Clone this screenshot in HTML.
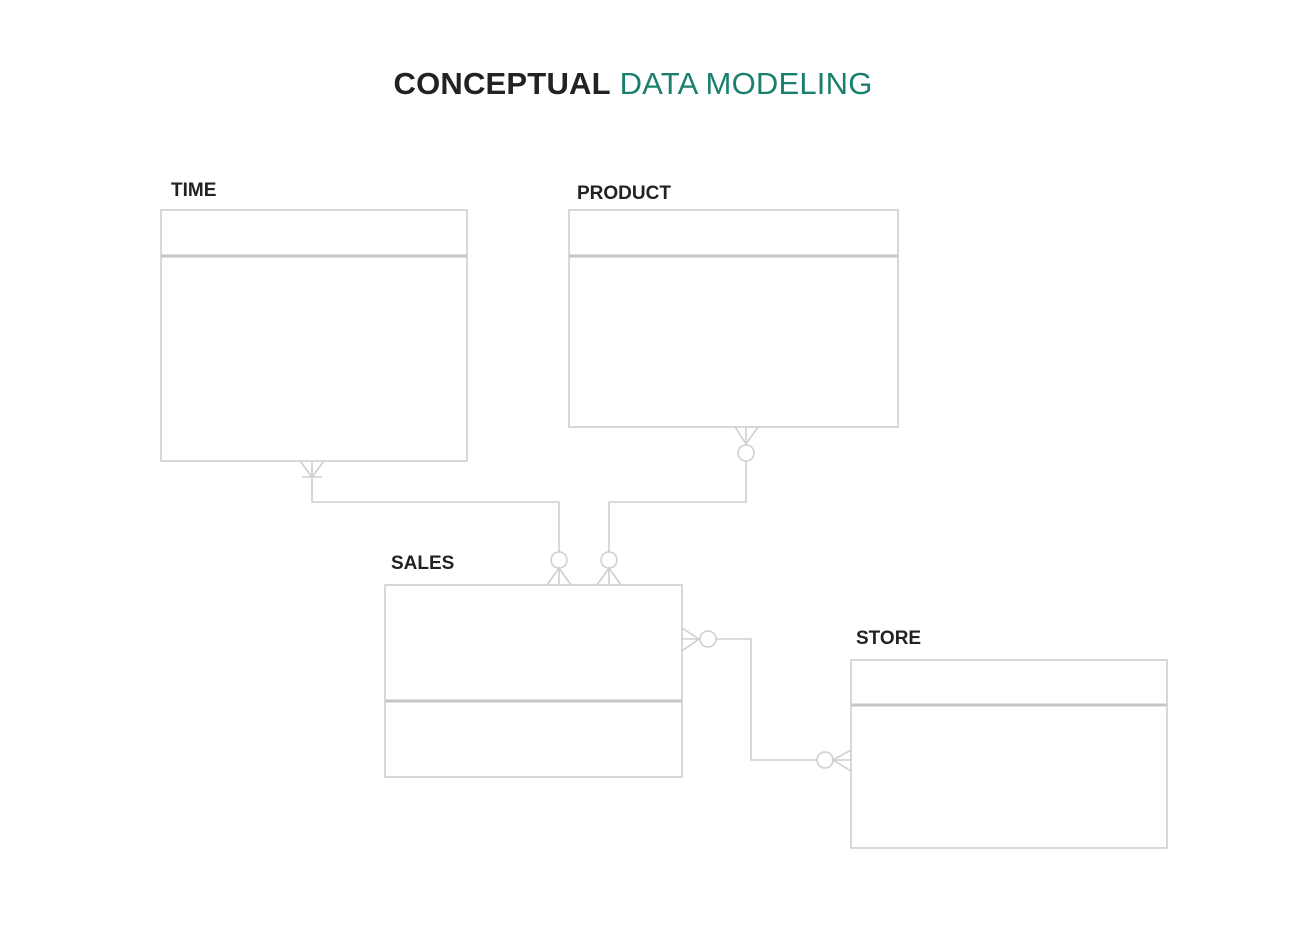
<!DOCTYPE html>
<html><head><meta charset="utf-8"><style>
html,body{margin:0;padding:0;background:#fff;width:1310px;height:930px;overflow:hidden}
svg text{font-family:"Liberation Sans",sans-serif}
</style></head><body>
<svg width="1310" height="930" viewBox="0 0 1310 930" xmlns="http://www.w3.org/2000/svg">
<text x="633" y="94" text-anchor="middle" font-size="31" letter-spacing="0.2"><tspan font-weight="bold" fill="#222">CONCEPTUAL</tspan><tspan fill="#1a7f6e"> DATA MODELING</tspan></text>
<g font-size="19" font-weight="bold" fill="#222">
<text x="171" y="196">TIME</text>
<text x="577" y="199">PRODUCT</text>
<text x="391" y="569">SALES</text>
<text x="856" y="644">STORE</text>
</g>
<g fill="none" stroke="#cfcfcf" stroke-width="1.6">
<rect x="161" y="210" width="306" height="251"/>
<rect x="569" y="210" width="329" height="217"/>
<rect x="385" y="585" width="297" height="192"/>
<rect x="851" y="660" width="316" height="188"/>
</g>
<g stroke="#c6c6c6" stroke-width="3">
<line x1="161" y1="256" x2="467" y2="256"/>
<line x1="569" y1="256" x2="898" y2="256"/>
<line x1="385" y1="701" x2="682" y2="701"/>
<line x1="851" y1="705" x2="1167" y2="705"/>
</g>
<g fill="none" stroke="#cfcfcf" stroke-width="1.6">
<polyline points="300,461 312,477 324,461"/>
<line x1="302" y1="477" x2="322" y2="477"/>
<polyline points="312,461 312,502 559,502 559,552"/>
<circle cx="559" cy="560" r="8"/>
<polyline points="547,585 559,568 571,585"/>
<line x1="559" y1="568" x2="559" y2="585"/>
<polyline points="735,427 746,444 758,427"/>
<line x1="746" y1="427" x2="746" y2="445"/>
<circle cx="746" cy="453" r="8"/>
<polyline points="746,461 746,502 609,502 609,552"/>
<circle cx="609" cy="560" r="8"/>
<polyline points="597,585 609,568 621,585"/>
<line x1="609" y1="568" x2="609" y2="585"/>
<polyline points="682,628 699,639 682,651"/>
<line x1="682" y1="639" x2="700" y2="639"/>
<circle cx="708" cy="639" r="8"/>
<polyline points="716,639 751,639 751,760 817,760"/>
<circle cx="825" cy="760" r="8"/>
<polyline points="851,750 833,760 851,771"/>
<line x1="833" y1="760" x2="851" y2="760"/>
</g>
</svg>
</body></html>
